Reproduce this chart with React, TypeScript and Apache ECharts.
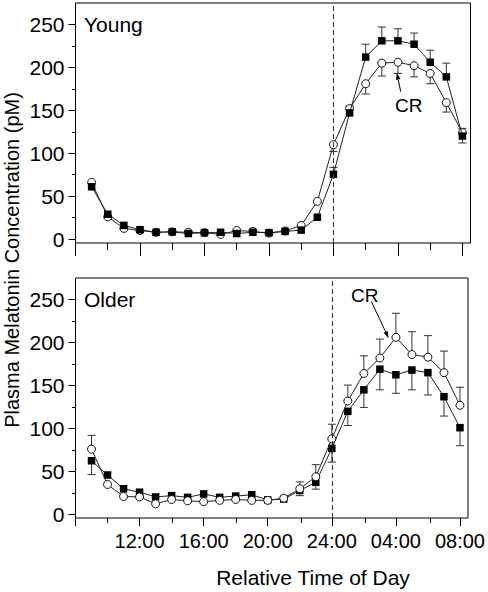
import React, { useEffect, useRef } from "react";
import * as echarts from "echarts";

// Hours after start (9 = 09:00 ... 32 = 08:00 next day)
const hours = [9, 10, 11, 12, 13, 14, 15, 16, 17, 18, 19, 20, 21, 22, 23, 24, 25, 26, 27, 28, 29, 30, 31, 32];

// Young panel
const youngCR = [66, 26, 12.5, 10, 8, 8.5, 8, 7.5, 5.5, 10, 9, 7, 9.5, 16, 44, 110, 152, 181, 205, 206, 202, 193, 159, 124];
const youngCtrl = [61, 29, 16, 11, 8, 8.5, 6.5, 7.5, 8, 6.5, 8, 7.5, 9, 10.5, 25.5, 75.5, 147, 212, 231, 231, 227, 206, 189, 120];
const youngCRErrUp = [0, 0, 0, 0, 0, 0, 0, 0, 0, 0, 0, 0, 0, 0, 0, 0, 0, 0, 0, 0, 0, 0, 0, 5];
const youngCRErrDown = [0, 0, 0, 0, 0, 0, 0, 0, 0, 0, 0, 0, 0, 0, 0, 8, 0, 12, 15, 13, 13, 12, 11, 0];
const youngCtrlErrUp = [0, 0, 0, 0, 0, 0, 0, 0, 0, 0, 0, 0, 0, 0, 0, 8, 8, 15, 16, 14, 13, 14, 16, 0];
const youngCtrlErrDown = [0, 0, 0, 0, 0, 0, 0, 0, 0, 0, 0, 0, 0, 0, 0, 0, 0, 0, 0, 0, 0, 0, 0, 8];

// Older panel
const olderCR = [76, 35, 21, 20.5, 12.5, 17.5, 16, 15, 16.5, 17.5, 16.5, 16.5, 19, 30, 44, 88, 132, 164, 182, 206, 186, 183, 165, 127];
const olderCtrl = [62.5, 46, 30, 26, 20.5, 22, 20, 24, 20, 21.5, 23, 17, 18, 28, 37.5, 77, 120, 145, 169, 162.5, 168, 165, 137, 101];
const olderCRErrUp = [16, 0, 0, 0, 0, 0, 0, 0, 0, 0, 0, 0, 0, 8, 14, 17, 18.5, 20.5, 22, 28, 26.5, 25, 25, 21];
const olderCRErrDown = [0, 0, 0, 0, 0, 0, 0, 0, 0, 0, 0, 0, 0, 8, 0, 0, 0, 0, 0, 0, 0, 0, 0, 0];
const olderCtrlErrUp = [0, 0, 0, 0, 0, 0, 0, 0, 0, 0, 0, 0, 0, 0, 0, 0, 0, 0, 0, 0, 0, 0, 0, 0];
const olderCtrlErrDown = [16, 0, 0, 0, 0, 0, 0, 0, 0, 0, 0, 0, 0, 0, 8, 16, 16.5, 20.5, 24, 21.5, 23, 26, 22.5, 21];

// Axis ticks
const xMajorTicks = [8, 12, 16, 20, 24, 28, 32];
const xMinorTicks = [10, 14, 18, 22, 26, 30];
const xLabelTicks = [12, 16, 20, 24, 28, 32];
const yMajorTicks = [0, 50, 100, 150, 200, 250];
const yMinorTicks = [25, 75, 125, 175, 225];

// Annotations (data coordinates)
const panelNames = ["Young", "Older"];
const crText = [[27.82, 156], [25.2, 255]];
const crArrowTail = [[28.17, 171.7], [26.47, 247.5]];
const crArrowTip = [[27.93, 193.8], [27.55, 205]];

const FONT = "'Liberation Sans', Arial, Helvetica, sans-serif";

function errData(vals: number[], up: number[], down: number[]) {
  const out: number[][] = [];
  hours.forEach((h, i) => {
    if (up[i] > 0) out.push([h, vals[i], vals[i] + up[i]]);
    if (down[i] > 0) out.push([h, vals[i], vals[i] - down[i]]);
  });
  return out;
}

const errRender = (params: any, api: any) => {
  const x = api.value(0);
  const p1 = api.coord([x, api.value(1)]);
  const p2 = api.coord([x, api.value(2)]);
  const hw = 4;
  return {
    type: "group",
    children: [
      { type: "line", shape: { x1: p1[0], y1: p1[1], x2: p2[0], y2: p2[1] }, style: { stroke: "#333", lineWidth: 1 } },
      { type: "line", shape: { x1: p2[0] - hw, y1: p2[1], x2: p2[0] + hw, y2: p2[1] }, style: { stroke: "#333", lineWidth: 1 } },
    ],
  };
};

const fmtHour = (v: number) => (v === 24 ? "24:00" : String(v % 24).padStart(2, "0") + ":00");

export default function App() {
  const ref = useRef<HTMLDivElement>(null);
  useEffect(() => {
    if (!ref.current) return;
    const chart = echarts.init(ref.current, undefined, { renderer: "svg" });
    const tops = [3, 278];
    const yMins = [-4.5, -4];
    // grids 0,1: main panels; grids 2,3: overlay grids carrying minor ticks
    const grids: any[] = [];
    [0, 1, 2, 3].forEach((k) => {
      const p = k % 2;
      grids.push({
        left: 75.5, top: tops[p], width: 395, height: 240,
        show: k < 2, borderColor: "#000", borderWidth: 1, backgroundColor: "transparent",
      });
    });
    const xAxes: any[] = [];
    const yAxes: any[] = [];
    [0, 1].forEach((g) => {
      xAxes.push({
        type: "value", gridIndex: g, min: 8, max: 32.5, position: "bottom",
        axisLine: { show: false, onZero: false },
        splitLine: { show: false },
        axisTick: { show: true, customValues: xMajorTicks, length: g === 0 ? 13 : 8, lineStyle: { color: "#000" } },
        axisLabel: {
          show: g === 1, customValues: xLabelTicks, formatter: fmtHour, margin: 13,
          fontSize: 20, fontFamily: FONT, color: "#000",
        },
      });
      yAxes.push({
        type: "value", gridIndex: g, min: yMins[g], max: 275, position: "left",
        axisLine: { show: false, onZero: false },
        splitLine: { show: false },
        axisTick: { show: true, customValues: yMajorTicks, length: 7, lineStyle: { color: "#000" } },
        axisLabel: { show: true, customValues: yMajorTicks, margin: 11, fontSize: 21, fontFamily: FONT, color: "#000" },
      });
    });
    [0, 1].forEach((g) => {
      xAxes.push({
        type: "value", gridIndex: g + 2, min: 8, max: 32.5, position: "bottom",
        axisLine: { show: false, onZero: false },
        splitLine: { show: false },
        axisTick: { show: true, customValues: xMinorTicks, length: g === 0 ? 7 : 5, lineStyle: { color: "#000" } },
        axisLabel: { show: false },
      });
      yAxes.push({
        type: "value", gridIndex: g + 2, min: yMins[g], max: 275, position: "left",
        axisLine: { show: false, onZero: false },
        splitLine: { show: false },
        axisTick: { show: true, customValues: yMinorTicks, length: 3.5, lineStyle: { color: "#000" } },
        axisLabel: { show: false },
      });
    });

    const markLine = {
      symbol: ["none", "none"], silent: true, label: { show: false },
      lineStyle: { type: [5, 3], color: "#333", width: 1 },
      data: [{ xAxis: 24 }],
    };

    const squareSeries = (g: number, vals: number[], withMark: boolean, z: number) => ({
      type: "line", xAxisIndex: g, yAxisIndex: g, z,
      data: hours.map((h, i) => [h, vals[i]]),
      symbol: "rect", symbolSize: 7.5, showSymbol: true,
      itemStyle: { color: "#000", borderColor: "#000", borderWidth: 0 },
      lineStyle: { color: "#222", width: 1 },
      ...(withMark ? { markLine } : {}),
    });
    const circleSeries = (g: number, vals: number[], z: number) => ({
      type: "line", xAxisIndex: g, yAxisIndex: g, z,
      data: hours.map((h, i) => [h, vals[i]]),
      symbol: "circle", symbolSize: 8, showSymbol: true,
      itemStyle: { color: "#fff", borderColor: "#111", borderWidth: 1 },
      lineStyle: { color: "#222", width: 1 },
    });
    const errSeries = (g: number, data: number[][]) => ({
      type: "custom", xAxisIndex: g, yAxisIndex: g, z: 1,
      renderItem: errRender, encode: { x: 0, y: [1, 2] }, data,
    });

    const series: any[] = [
      errSeries(0, errData(youngCR, youngCRErrUp, youngCRErrDown)),
      errSeries(0, errData(youngCtrl, youngCtrlErrUp, youngCtrlErrDown)),
      circleSeries(0, youngCR, 2),
      squareSeries(0, youngCtrl, true, 3),
      errSeries(1, errData(olderCR, olderCRErrUp, olderCRErrDown)),
      errSeries(1, errData(olderCtrl, olderCtrlErrUp, olderCtrlErrDown)),
      squareSeries(1, olderCtrl, true, 2),
      circleSeries(1, olderCR, 3),
    ];

    const baseGraphic: any[] = [
      {
        type: "text", x: 12, y: 260, rotation: Math.PI / 2,
        style: { text: "Plasma Melatonin Concentration (pM)", font: `20px ${FONT}`, fill: "#000", align: "center", verticalAlign: "middle" },
      },
      {
        type: "text", x: 313, y: 577,
        style: { text: "Relative Time of Day", font: `21px ${FONT}`, fill: "#000", align: "center", verticalAlign: "middle" },
      },
      {
        type: "text", x: 84, y: 24.4,
        style: { text: panelNames[0], font: `21px ${FONT}`, fill: "#000", align: "left", verticalAlign: "middle" },
      },
      {
        type: "text", x: 84, y: 299.4,
        style: { text: panelNames[1], font: `21px ${FONT}`, fill: "#000", align: "left", verticalAlign: "middle" },
      },
    ];

    chart.setOption({
      animation: false,
      backgroundColor: "#fff",
      grid: grids,
      xAxis: xAxes,
      yAxis: yAxes,
      series,
      graphic: baseGraphic,
    });

    const annot: any[] = [];
    [0, 1].forEach((g) => {
      const finder = { xAxisIndex: g, yAxisIndex: g };
      const tp = chart.convertToPixel(finder as any, crText[g]) as number[];
      const a = chart.convertToPixel(finder as any, crArrowTail[g]) as number[];
      const b = chart.convertToPixel(finder as any, crArrowTip[g]) as number[];
      const dx = b[0] - a[0], dy = b[1] - a[1];
      const len = Math.sqrt(dx * dx + dy * dy) || 1;
      const ux = dx / len, uy = dy / len;
      const nx = -uy, ny = ux;
      const L = 7, W = 2.3;
      const base = [b[0] - ux * L, b[1] - uy * L];
      annot.push({
        type: "text", x: tp[0], y: tp[1],
        style: { text: "CR", font: `19px ${FONT}`, fill: "#000", align: "left", verticalAlign: "middle" },
      });
      annot.push({
        type: "line", shape: { x1: a[0], y1: a[1], x2: base[0], y2: base[1] },
        style: { stroke: "#000", lineWidth: 1 },
      });
      annot.push({
        type: "polygon",
        shape: { points: [[b[0], b[1]], [base[0] + nx * W, base[1] + ny * W], [base[0] - nx * W, base[1] - ny * W]] },
        style: { fill: "#000" },
      });
    });

    chart.setOption({ graphic: baseGraphic.concat(annot) }, { replaceMerge: ["graphic"] } as any);

    return () => chart.dispose();
  }, []);
  return (
    <div
      ref={ref}
      style={{ position: "absolute", left: 0, top: 0, width: 488, height: 592, background: "#fff" }}
    />
  );
}
